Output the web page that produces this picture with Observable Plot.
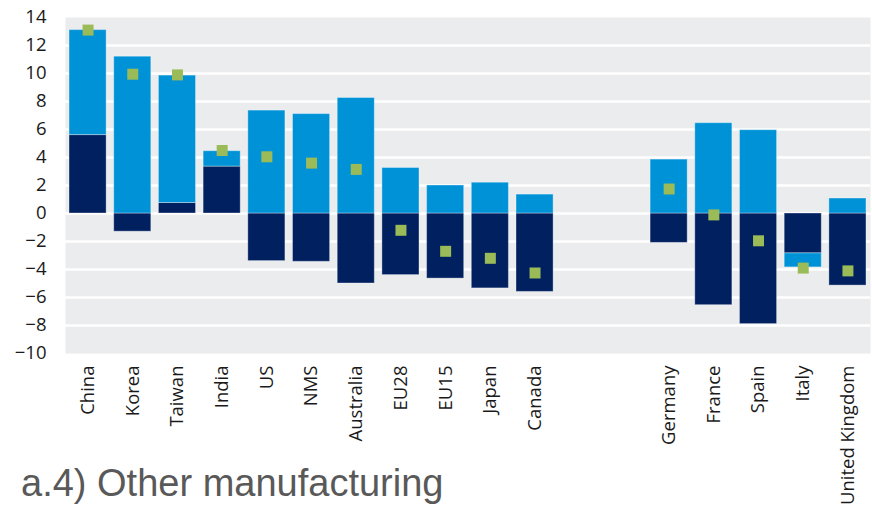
<!DOCTYPE html>
<html><head><meta charset="utf-8">
<script src="https://cdn.jsdelivr.net/npm/d3@7"></script>
<script src="https://cdn.jsdelivr.net/npm/@observablehq/plot@0.6"></script>
<style>
body{margin:0;background:#fff;}
#wrap{position:relative;width:872px;height:508px;overflow:hidden;}
#title{position:absolute;left:21px;top:462px;font-family:"Liberation Sans",Arial,sans-serif;font-size:38px;line-height:42px;color:#595959;white-space:nowrap;}
</style></head><body><div id="wrap"><div id="chart"></div><div id="title">a.4) Other manufacturing</div></div>
<script>
const countries = ["China","Korea","Taiwan","India","US","NMS","Australia","EU28","EU15","Japan","Canada","Germany","France","Spain","Italy","United Kingdom"];
const slots = ["China","Korea","Taiwan","India","US","NMS","Australia","EU28","EU15","Japan","Canada"," ","  ","Germany","France","Spain","Italy","United Kingdom"];
const darkValues  = [5.6, -1.3, 0.75, 3.35, -3.4, -3.45, -5.0, -4.4, -4.65, -5.35, -5.6, -2.1, -6.55, -7.9, -2.85, -5.15];
const lightValues = [7.5, 11.2, 9.1, 1.1, 7.35, 7.1, 8.25, 3.25, 2.0, 2.2, 1.35, 3.85, 6.45, 5.95, -1.0, 1.07];
const totals      = [13.1, 9.95, 9.9, 4.5, 4.05, 3.6, 3.15, -1.2, -2.7, -3.2, -4.25, 1.75, -0.1, -1.95, -3.9, -4.1];
const yTicks = [-10,-8,-6,-4,-2,0,2,4,6,8,10,12,14];
const seriesNames = ["dark","light"];
const seriesColors = ["#002060","#0092d6"];

const rows = [];
countries.forEach((c,i) => {
  rows.push({country:c, series:"dark", value:darkValues[i]});
  rows.push({country:c, series:"light", value:lightValues[i]});
});
const points = countries.map((c,i) => ({country:c, value:totals[i]}));

const chart = Plot.plot({
  width: 872, height: 508,
  marginLeft: 65, marginRight: 2, marginTop: 17, marginBottom: 155,
  style: {fontFamily: "'Open Sans', sans-serif", fontSize: "18.5px", color: "#1a1a1a", background: "white"},
  x: {domain: slots, paddingInner: 0.17, paddingOuter: 0.09, round: false, label: null},
  y: {domain: [-10, 14], label: null},
  color: {domain: seriesNames, range: seriesColors},
  marks: [
    Plot.frame({fill: "#ebecee", stroke: null}),
    Plot.ruleY(yTicks.slice(1, -1), {stroke: "white", strokeWidth: 2.5}),
    Plot.barY(rows, {x: "country", y: "value", fill: "series", stroke: "white", strokeOpacity: 0.35, strokeWidth: 1, inset: 0}),
    Plot.dot(points, {x: "country", y: "value", symbol: "square", r: 6.2, fill: "#9bbb59", stroke: null}),
    Plot.axisY({ticks: yTicks, tickSize: 0, tickPadding: 19, fontSize: 18.5, label: null}),
    Plot.axisX({ticks: countries, tickSize: 0, tickPadding: 12, tickRotate: -90, fontSize: 18.5, label: null})
  ]
});
document.getElementById("chart").appendChild(chart);
</script>
</body></html>
